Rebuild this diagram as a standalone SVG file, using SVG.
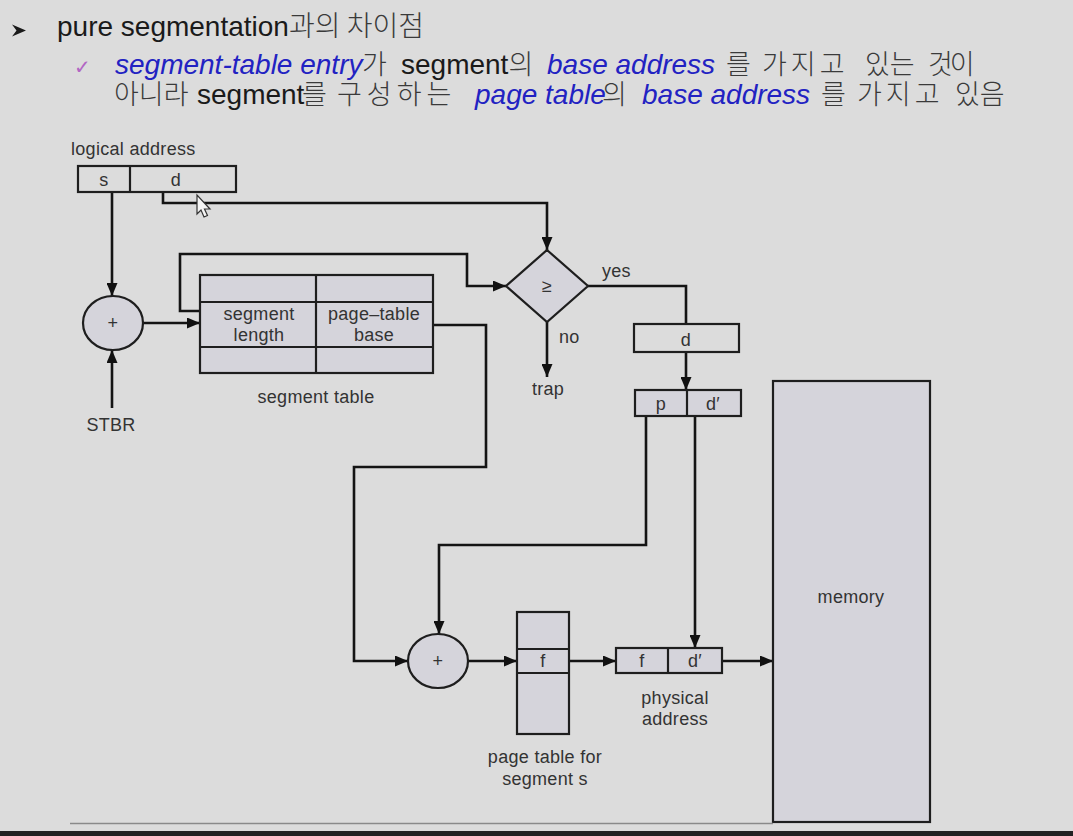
<svg xmlns="http://www.w3.org/2000/svg" width="1073" height="836" viewBox="0 0 1073 836">
<defs>
<marker id="ah" markerUnits="userSpaceOnUse" markerWidth="13" markerHeight="11" refX="13" refY="5.5" orient="auto">
<path d="M0,0 L13,5.5 L0,11 z" fill="#111"/>
</marker>
<style>
.t{font-family:"Liberation Sans","Noto Sans CJK KR",sans-serif;}
.h{font-size:28px;fill:#1a1a1a;}
.k{font-size:27px;fill:#3a3a3a;font-weight:300;font-family:"Noto Sans CJK KR","Liberation Sans",sans-serif;}
.b{fill:#2222c2;font-style:italic;}
.lb{font-family:"Liberation Sans",Arial,sans-serif;font-size:18px;fill:#333;letter-spacing:0.3px;}
.c{text-anchor:middle;}
.box{fill:#d5d4db;stroke:#1e1e1e;stroke-width:2.2;}
.nb{fill:none;stroke:#1e1e1e;stroke-width:2.2;}
.ln{stroke:#1e1e1e;stroke-width:2.2;fill:none;}
.cn{fill:none;stroke:#141414;stroke-width:2.6;marker-end:url(#ah);}
.cp{fill:none;stroke:#141414;stroke-width:2.6;}
</style>
</defs>
<rect x="0" y="0" width="1073" height="836" fill="#dcdcdc"/>

<g id="title">
<path d="M26,30.5 L12,24.5 L16.5,30.5 L12,36.5 Z" fill="#1a1a1a"/>
<text class="t h" x="57" y="36">pure segmentation<tspan class="k" style="font-size:28px">과의 차이점</tspan></text>
<text x="74" y="74" style="font-family:'DejaVu Sans',sans-serif;font-size:20px;fill:#b266c4">✓</text>
<text class="t h" y="74"><tspan class="b" x="115">segment-table entry</tspan><tspan class="k" x="362">가</tspan><tspan x="401">segment</tspan><tspan class="k">의</tspan><tspan class="b" x="547">base address</tspan><tspan class="k" x="726">를</tspan><tspan class="k" x="762" style="letter-spacing:4px">가지고</tspan><tspan class="k" x="865">있는</tspan><tspan class="k" x="928" style="letter-spacing:-3px">것이</tspan></text>
<text class="t h" y="104"><tspan class="k" x="114">아니라</tspan><tspan x="197">segment</tspan><tspan class="k" x="302">를</tspan><tspan class="k" x="337" style="letter-spacing:5px">구성하는</tspan><tspan class="b" x="475">page table</tspan><tspan class="k" x="602">의</tspan><tspan class="b" x="642">base address</tspan><tspan class="k" x="821">를</tspan><tspan class="k" x="857" style="letter-spacing:4px">가지고</tspan><tspan class="k" x="955">있음</tspan></text>
</g>

<g id="connectors">
<path class="cn" d="M112,192 V296"/>
<path class="cn" d="M112,408 V350"/>
<path class="cn" d="M143,323 H200"/>
<path class="cn" d="M163,192 V203 H547 V250"/>
<path class="cn" d="M200,311 H180 V254 H467 V286 H506"/>
<path class="cp" d="M588,286 H686 V324"/>
<path class="cn" d="M547,322 V377"/>
<path class="cn" d="M686,352 V390"/>
<path class="cn" d="M433,325 H486 V467 H354 V661 H408"/>
<path class="cn" d="M646,416 V545 H439 V634"/>
<path class="cn" d="M695,416 V648"/>
<path class="cn" d="M468,661 H517"/>
<path class="cn" d="M569,661 H616"/>
<path class="cn" d="M722,661 H773"/>
</g>

<g id="logical-address">
<text class="lb" x="71" y="155">logical address</text>
<rect class="nb" x="78" y="166" width="158" height="26"/>
<line class="ln" x1="130" y1="166" x2="130" y2="192"/>
<text class="lb c" x="104" y="186">s</text>
<text class="lb c" x="176" y="186">d</text>
</g>

<g id="adder1">
<ellipse class="box" cx="113" cy="323" rx="30" ry="27"/>
<text class="lb c" x="113" y="329">+</text>
</g>

<g id="stbr">
<text class="lb c" x="111" y="431">STBR</text>
</g>

<g id="segment-table">
<rect class="box" x="200" y="275" width="233" height="98"/>
<line class="ln" x1="200" y1="302" x2="433" y2="302"/>
<line class="ln" x1="200" y1="347" x2="433" y2="347"/>
<line class="ln" x1="316" y1="275" x2="316" y2="373"/>
<text class="lb c" x="259" y="320">segment</text>
<text class="lb c" x="259" y="341">length</text>
<text class="lb c" x="374" y="320">page–table</text>
<text class="lb c" x="374" y="341">base</text>
<text class="lb c" x="316" y="403">segment table</text>
</g>

<g id="comparator">
<polygon class="box" points="547,250 588,286 547,322 506,286"/>
<text class="lb c" x="547" y="292">≥</text>
<text class="lb" x="602" y="277">yes</text>
<text class="lb" x="559" y="343">no</text>
</g>

<g id="trap">
<text class="lb c" x="548" y="395">trap</text>
</g>

<g id="offset-d">
<rect class="nb" x="634" y="324" width="105" height="28"/>
<text class="lb c" x="686" y="346">d</text>
</g>

<g id="p-dprime">
<rect class="box" x="635" y="390" width="106" height="26"/>
<line class="ln" x1="687" y1="390" x2="687" y2="416"/>
<text class="lb c" x="661" y="410">p</text>
<text class="lb c" x="713" y="410">d′</text>
</g>

<g id="adder2">
<ellipse class="box" cx="438" cy="661" rx="30" ry="27"/>
<text class="lb c" x="438" y="667">+</text>
</g>

<g id="page-table">
<rect class="box" x="517" y="612" width="52" height="122"/>
<line class="ln" x1="517" y1="649" x2="569" y2="649"/>
<line class="ln" x1="517" y1="673" x2="569" y2="673"/>
<text class="lb c" x="543" y="667">f</text>
<text class="lb c" x="545" y="763">page table for</text>
<text class="lb c" x="545" y="785">segment s</text>
</g>

<g id="physical-address">
<rect class="box" x="616" y="648" width="106" height="25"/>
<line class="ln" x1="668" y1="648" x2="668" y2="673"/>
<text class="lb c" x="642" y="667">f</text>
<text class="lb c" x="695" y="667">d′</text>
<text class="lb c" x="675" y="704">physical</text>
<text class="lb c" x="675" y="725">address</text>
</g>

<g id="memory">
<rect class="box" x="773" y="381" width="157" height="441"/>
<text class="lb c" x="851" y="603">memory</text>
</g>

<polygon points="197,195 197,214 201,210 204,217 207.5,215.5 204.5,209 210,209" fill="#f4f4f4" stroke="#333" stroke-width="1.2"/>
<line x1="70" y1="823.5" x2="773" y2="823.5" stroke="#8a8a8a" stroke-width="1.5"/>
<rect x="0" y="831" width="1073" height="5" fill="#222"/>
</svg>
